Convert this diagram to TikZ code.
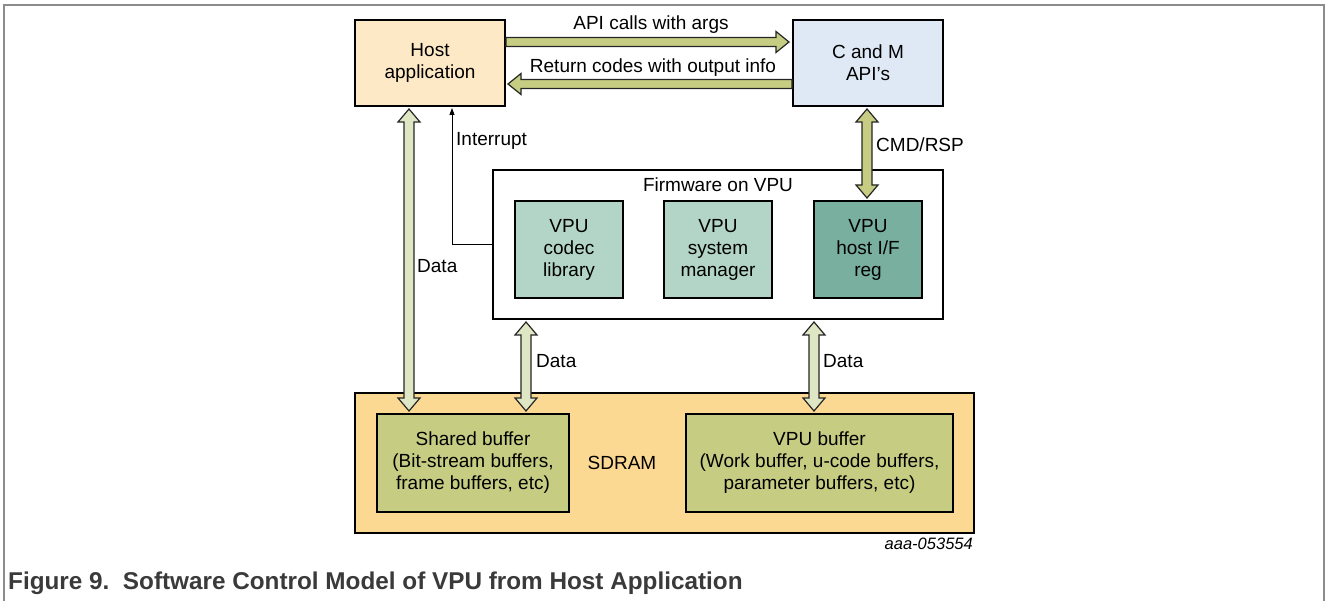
\documentclass[tikz,border=0pt]{standalone}
\usepackage{fontspec}
\setmainfont{Liberation Sans}
\usepackage{xcolor}
\usetikzlibrary{shapes,arrows,positioning,calc,arrows.meta}

\definecolor{hostcol}{HTML}{FDE9C5}
\definecolor{apicol}{HTML}{DFE9F5}
\definecolor{fwcol}{HTML}{B3D5C7}
\definecolor{regcol}{HTML}{78AF9F}
\definecolor{sdramcol}{HTML}{FCD993}
\definecolor{bufcol}{HTML}{C6CD82}
\definecolor{datacol}{HTML}{DEE6C3}
\definecolor{framecol}{HTML}{8C8C8C}
\definecolor{captioncol}{HTML}{3A3A3A}

\tikzset{
    blk/.style={draw=black, line width=2pt, align=center, inner sep=0pt,
        font=\fontsize{19}{22}\selectfont},
    lbl/.style={inner sep=0pt, font=\fontsize{19}{22}\selectfont},
    fat/.style={draw=black!85, line width=1.2pt, fill=bufcol},
    fatdata/.style={fat, fill=datacol}
}

% fat single arrow, horizontal: start, tip
\newcommand{\harrow}[3]{%
    \draw[#1] let \p1=#2, \p2=#3, \p3=($#3!13pt!#2$) in
        (\x1,\y1+4.5pt) -- (\x3,\y1+4.5pt) -- (\x3,\y1+10.5pt) -- (\x2,\y1)
        -- (\x3,\y1-10.5pt) -- (\x3,\y1-4.5pt) -- (\x1,\y1-4.5pt) -- cycle;}
% fat double arrow, vertical: top tip, bottom tip
\newcommand{\vdarrow}[3]{%
    \draw[#1] let \p1=#2, \p2=#3 in
        (\x1,\y1) -- (\x1+11pt,\y1-13pt) -- (\x1+5pt,\y1-13pt) -- (\x1+5pt,\y2+13pt)
        -- (\x1+11pt,\y2+13pt) -- (\x1,\y2) -- (\x1-11pt,\y2+13pt) -- (\x1-5pt,\y2+13pt)
        -- (\x1-5pt,\y1-13pt) -- (\x1-11pt,\y1-13pt) -- cycle;}

\begin{document}
\begin{tikzpicture}[x=1pt, y=-1pt]
    \useasboundingbox (0,0) rectangle (1328,601);
    % Frame
    \draw[framecol, line width=1.5pt] (4,601) -- (4,5) -- (1324,5) -- (1324,601);

    % Host and API
    \node[blk, fill=hostcol, minimum width=150pt, minimum height=86pt] (host) at (430,63) {Host\\application};
    \node[blk, fill=apicol, minimum width=150pt, minimum height=86pt] (cm) at (868,63) {C and M\\API{\char"27}s};

    % Firmware on VPU
    \node[blk, fill=white, minimum width=450pt, minimum height=149pt] (fw) at (718,244.5) {};
    \node[lbl] (fwlbl) at (718,185) {Firmware on VPU};
    \node[blk, fill=fwcol, minimum width=108pt, minimum height=97pt] (codec) at (569,249.5) {VPU\\codec\\library};
    \node[blk, fill=fwcol, minimum width=108pt, minimum height=97pt] (sysman) at (718,249.5) {VPU\\system\\manager};
    \node[blk, fill=regcol, minimum width=108pt, minimum height=97pt] (hostif) at (868,249.5) {VPU\\host I/F\\reg};

    % SDRAM
    \node[blk, fill=sdramcol, minimum width=619pt, minimum height=140pt] (sdram) at (664.5,463) {};
    \node[lbl] (sdramlbl) at (622,463) {SDRAM};
    \node[blk, fill=bufcol, minimum width=192pt, minimum height=98pt] (shared) at (473,463) {Shared buffer\\(Bit-stream buffers,\\frame buffers, etc)};
    \node[blk, fill=bufcol, minimum width=267pt, minimum height=98pt] (vpubuf) at (819.5,463) {VPU buffer\\(Work buffer, u-code buffers,\\parameter buffers, etc)};

    % Arrows
    \harrow{fat}{([yshift=21pt]host.east)}{([xshift=-3pt,yshift=21pt]cm.west)}
    \harrow{fat}{([yshift=-21pt]cm.west)}{([xshift=2pt,yshift=-21pt]host.east)}
    \vdarrow{fat}{([xshift=-1pt,yshift=-2pt]cm.south)}{([yshift=2pt]hostif.north)}
    \vdarrow{fatdata}{([xshift=-21pt,yshift=-2pt]host.south)}{([yshift=2pt]shared.north)}
    \vdarrow{fatdata}{([xshift=-192pt,yshift=-2pt]fw.south)}{([yshift=2pt]shared.north)}
    \vdarrow{fatdata}{([xshift=96pt,yshift=-2pt]fw.south)}{([yshift=2pt]vpubuf.north)}
    \draw[line width=0.8pt, -{Triangle[length=7pt,width=5pt]}] (fw.west) -| ([xshift=22pt,yshift=-1pt]host.south);

    % Labels
    \node[lbl] (apilbl) at (651,25) {API calls with args};
    \node[lbl] (retlbl) at (653,68) {Return codes with output info};
    \node[lbl, anchor=west] (intlbl) at (456,141) {Interrupt};
    \node[lbl, anchor=west] (cmdlbl) at (876,145) {CMD/RSP};
    \node[lbl, anchor=west] (datalbl1) at (417,266) {Data};
    \node[lbl, anchor=west] (datalbl2) at (536,361) {Data};
    \node[lbl, anchor=west] (datalbl3) at (823,361) {Data};
    \node[inner sep=0pt, anchor=east, font=\fontsize{16.5}{18}\selectfont\itshape] (code) at (973,544) {aaa-053554};
    \node[inner sep=0pt, anchor=west, text=captioncol, font=\fontsize{24.3}{27}\selectfont\bfseries] (caption) at (8,583) {Figure 9.\ \ Software Control Model of VPU from Host Application};
\end{tikzpicture}
\end{document}
